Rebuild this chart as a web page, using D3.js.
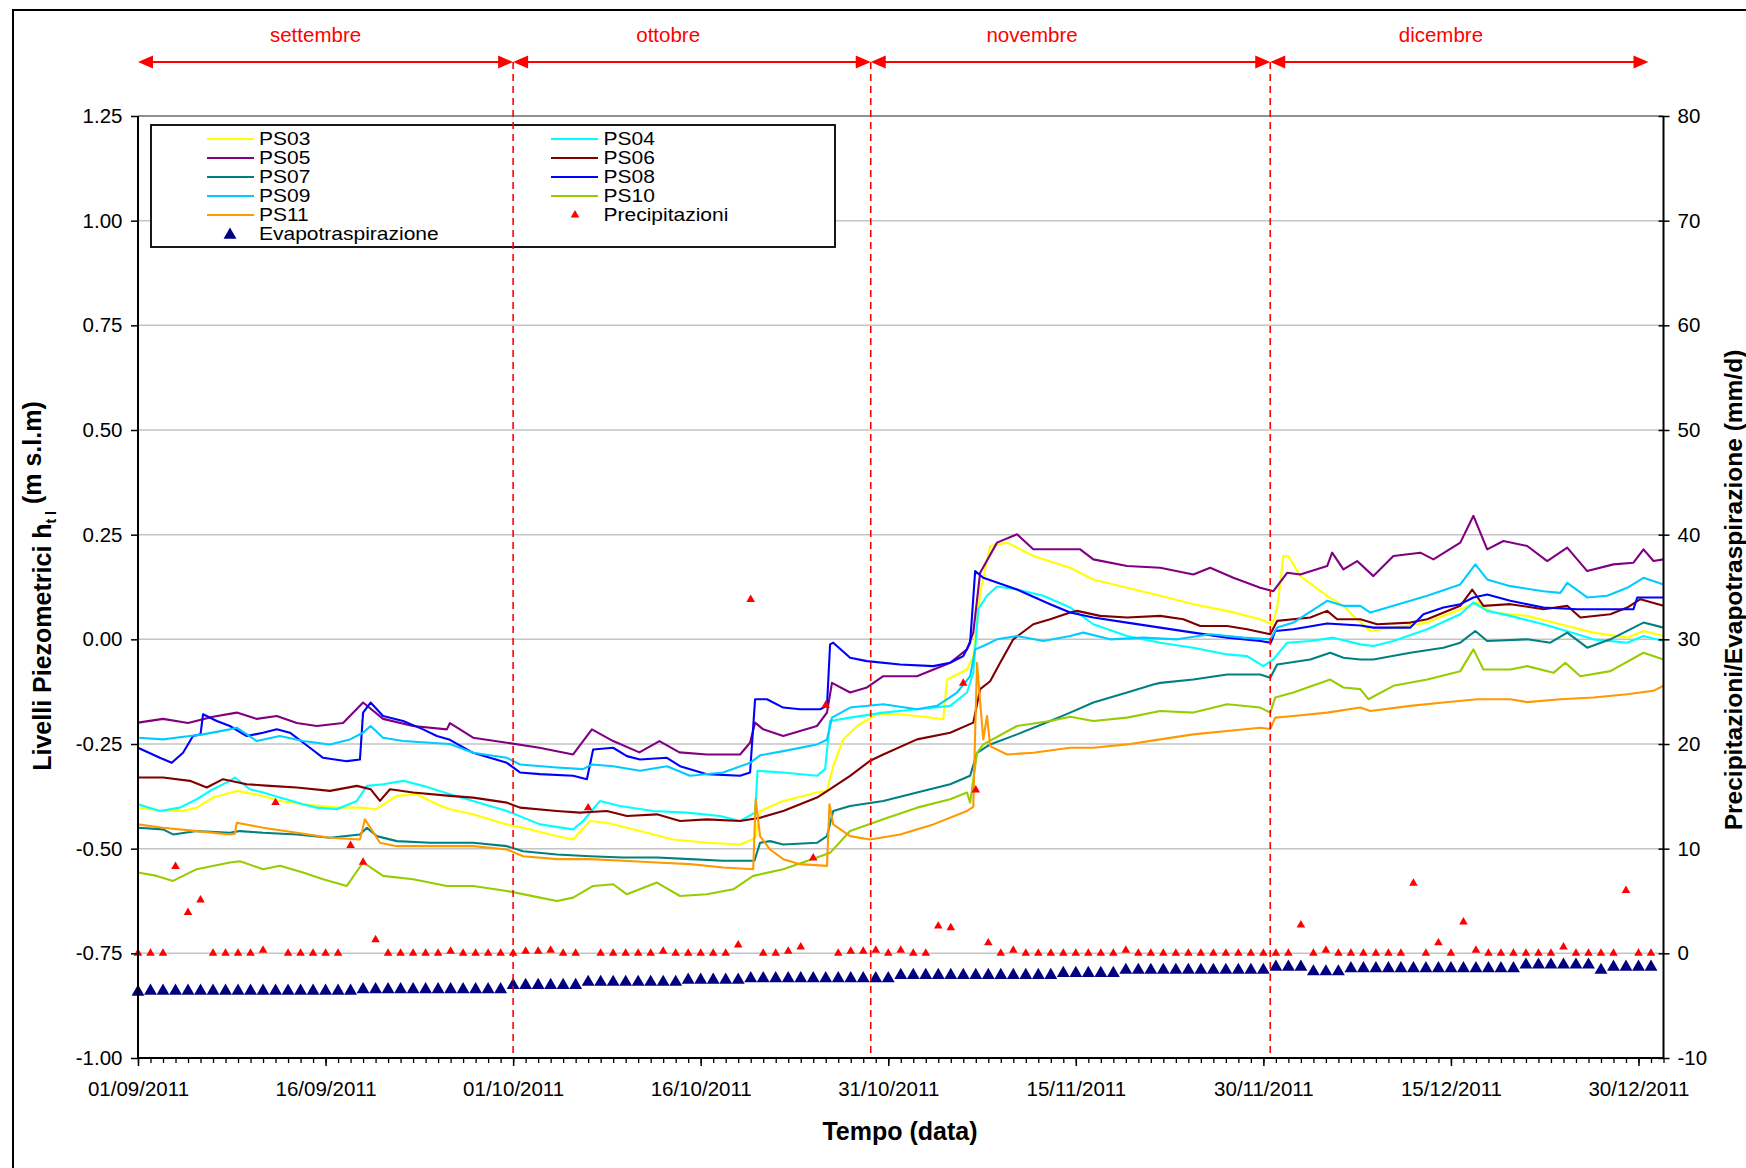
<!DOCTYPE html>
<html><head><meta charset="utf-8">
<script src="https://cdn.jsdelivr.net/npm/d3@7"></script>
<style>
body{margin:0;background:#fff}
svg{display:block}
text{font-family:"Liberation Sans",Arial,Helvetica,sans-serif}
</style>
</head><body>
<svg id="chart" width="1746" height="1168"></svg>
<script>
// ---------------- DATA ----------------
const startDate = Date.UTC(2011, 8, 1);       // 01/09/2011
const endDay = 122;                            // 01/01/2012
const dateTickDays = [0, 15, 30, 45, 60, 75, 90, 105, 120];
const leftTicks = [-1.00, -0.75, -0.50, -0.25, 0.00, 0.25, 0.50, 0.75, 1.00, 1.25];
const rightTicks = [-10, 0, 10, 20, 30, 40, 50, 60, 70, 80];

const monthNames = ["settembre", "ottobre", "novembre", "dicembre"];
const monthStartDays = [0, 30, 58.6, 90.55];
const monthEndDays = [30, 58.6, 90.55, 120.8];
const monthLabelDays = [14.2, 42.4, 71.5, 104.2];
const monthDividerDays = [30, 58.6, 90.55];

// [giorno dal 01/09/2011, livello m s.l.m]
const PS03 = [[0,-0.402],[2,-0.41],[3.6,-0.41],[4.7,-0.402],[6,-0.378],[7.9,-0.362],[10,-0.374],[11.35,-0.386],[13.2,-0.394],[15.9,-0.402],[18,-0.402],[19,-0.406],[20.7,-0.374],[22.3,-0.37],[24,-0.395],[24.95,-0.406],[26.8,-0.418],[29.5,-0.442],[30.8,-0.45],[32.95,-0.466],[34.8,-0.478],[35.5,-0.455],[36.15,-0.434],[37.5,-0.438],[40.15,-0.458],[42.8,-0.478],[45.5,-0.486],[48.15,-0.49],[49.35,-0.475],[49.75,-0.41],[51.6,-0.386],[54.3,-0.366],[55.1,-0.362],[55.6,-0.303],[56.4,-0.239],[57.5,-0.207],[59.1,-0.179],[60.95,-0.179],[62.3,-0.183],[64.4,-0.191],[64.7,-0.096],[66.3,-0.072],[66.8,-0.04],[67.35,0.111],[68.15,0.223],[69.5,0.231],[71.6,0.199],[74.55,0.171],[76.4,0.143],[79.1,0.123],[81.75,0.104],[84.4,0.084],[87.1,0.068],[89.75,0.048],[90.7,0.036],[91.1,0.072],[91.6,0.199],[92,0.199],[92.95,0.151],[95.1,0.104],[96.4,0.08],[97.2,0.056],[98.55,0.02],[100.4,0.028],[103.1,0.04],[105.75,0.072],[107.1,0.088],[108.4,0.064],[111.1,0.056],[113.75,0.036],[116.4,0.016],[119.1,0.004],[120.4,0.02],[122,0.008]];
const PS04 = [[0,-0.394],[1.75,-0.41],[3.35,-0.402],[4.7,-0.382],[6,-0.358],[7.35,-0.338],[7.75,-0.33],[8.95,-0.358],[10,-0.366],[11.35,-0.378],[13.2,-0.394],[14.3,-0.402],[15.9,-0.406],[17.5,-0.386],[18.3,-0.35],[19.6,-0.346],[21.2,-0.338],[22.8,-0.35],[24.95,-0.37],[26.8,-0.386],[29.5,-0.41],[32.15,-0.442],[34.8,-0.454],[35.6,-0.434],[36.95,-0.386],[38.55,-0.398],[41.2,-0.41],[43.9,-0.414],[46.55,-0.422],[48.15,-0.434],[49.35,-0.414],[49.55,-0.314],[51.6,-0.318],[54.3,-0.326],[54.95,-0.31],[55.35,-0.195],[56.95,-0.187],[59.6,-0.175],[62.3,-0.167],[64.95,-0.159],[66.3,-0.127],[66.8,-0.08],[67.2,0.072],[67.9,0.104],[68.7,0.126],[70.3,0.119],[72.4,0.104],[74.55,0.076],[76.4,0.036],[79.1,0.008],[81.75,-0.008],[84.4,-0.02],[87.1,-0.036],[88.7,-0.04],[90,-0.064],[90.8,-0.048],[91.9,-0.008],[93.75,-0.004],[95.6,0.004],[97.75,-0.012],[98.8,-0.016],[100.4,-0.004],[103.1,0.024],[105.75,0.06],[106.8,0.088],[107.9,0.068],[109.75,0.056],[112.4,0.036],[115.1,0.012],[116.4,0],[119.1,-0.008],[120.4,0.008],[122,-0.004]];
const PS05 = [[0,-0.199],[2,-0.19],[4,-0.2],[6,-0.185],[7.9,-0.175],[9.5,-0.19],[11.1,-0.183],[12.7,-0.2],[14.3,-0.207],[16.4,-0.2],[18,-0.151],[19.6,-0.19],[22,-0.207],[24.7,-0.215],[24.95,-0.2],[26.8,-0.235],[29.5,-0.247],[32.1,-0.259],[34.8,-0.275],[36.3,-0.215],[38,-0.243],[40.1,-0.27],[41.7,-0.243],[43.3,-0.27],[45.5,-0.275],[48.15,-0.275],[48.95,-0.247],[49.35,-0.199],[50,-0.215],[51.6,-0.231],[54.3,-0.207],[55.1,-0.175],[55.5,-0.104],[56.95,-0.127],[58.3,-0.115],[59.6,-0.088],[62.3,-0.088],[64.95,-0.056],[66.3,-0.024],[66.8,0.016],[67.35,0.159],[68.7,0.231],[70.3,0.251],[71.6,0.215],[72.95,0.215],[75.35,0.215],[76.4,0.191],[79.1,0.175],[81.75,0.171],[84.4,0.155],[85.75,0.171],[87.6,0.147],[89.75,0.123],[90.8,0.115],[91.9,0.159],[92.95,0.155],[95.1,0.175],[95.5,0.207],[96.4,0.167],[97.5,0.187],[98.8,0.151],[100.4,0.199],[102.55,0.207],[103.6,0.191],[105.75,0.231],[106.8,0.295],[107.9,0.215],[109.2,0.235],[111.1,0.223],[112.7,0.187],[114.3,0.219],[115.9,0.163],[118,0.179],[119.6,0.183],[120.4,0.215],[121.2,0.187],[122,0.191]];
const PS06 = [[0,-0.33],[2,-0.33],[4.15,-0.338],[5.5,-0.354],[6.8,-0.334],[8.7,-0.346],[10.55,-0.35],[12.7,-0.354],[15.35,-0.362],[17.5,-0.35],[18.6,-0.358],[19.35,-0.386],[20.15,-0.358],[22,-0.366],[24.95,-0.374],[26.8,-0.378],[29.5,-0.39],[30.55,-0.402],[33.5,-0.41],[35.35,-0.414],[37.5,-0.41],[39.1,-0.422],[41.5,-0.418],[43.35,-0.434],[45.5,-0.43],[48.15,-0.434],[49.75,-0.426],[51.6,-0.41],[54.3,-0.378],[55.35,-0.358],[56.95,-0.326],[58.55,-0.29],[59.6,-0.275],[62.3,-0.239],[64.95,-0.223],[66.8,-0.199],[67.35,-0.119],[68.15,-0.1],[68.95,-0.056],[70,0],[71.6,0.036],[72.95,0.048],[74.55,0.064],[75.1,0.068],[76.95,0.056],[79.1,0.052],[81.75,0.056],[83.6,0.048],[84.95,0.032],[87.1,0.032],[88.7,0.024],[90.55,0.012],[91.1,0.044],[93.75,0.052],[95.1,0.068],[95.9,0.048],[97.75,0.048],[99.1,0.036],[101.75,0.04],[103.1,0.048],[105.75,0.08],[106.7,0.119],[107.6,0.08],[109.75,0.084],[112.4,0.072],[114.3,0.08],[115.35,0.052],[117.75,0.06],[119.1,0.076],[120.15,0.096],[122,0.08]];
const PS07 = [[0,-0.45],[2,-0.454],[2.8,-0.466],[4.7,-0.458],[7.35,-0.462],[8.15,-0.458],[10,-0.462],[12.7,-0.466],[15.35,-0.474],[17.75,-0.466],[18.3,-0.45],[19.1,-0.47],[20.7,-0.482],[23.35,-0.486],[26.8,-0.486],[29.5,-0.494],[30.8,-0.506],[33.5,-0.514],[36.15,-0.518],[38.8,-0.521],[41.5,-0.521],[44.15,-0.525],[46.8,-0.529],[49.3,-0.529],[49.75,-0.486],[50.55,-0.482],[51.6,-0.49],[54.3,-0.486],[55.1,-0.47],[55.6,-0.41],[56.95,-0.398],[59.6,-0.386],[62.3,-0.366],[64.95,-0.346],[66.55,-0.326],[67.1,-0.271],[68.15,-0.251],[70.3,-0.227],[72.95,-0.195],[74.55,-0.175],[76.4,-0.151],[79.1,-0.127],[81.2,-0.108],[81.75,-0.104],[84.4,-0.096],[87.1,-0.084],[89.75,-0.084],[90.55,-0.092],[91.1,-0.06],[93.75,-0.048],[95.35,-0.032],[96.4,-0.044],[97.75,-0.048],[98.8,-0.048],[101.75,-0.032],[104.4,-0.02],[105.75,-0.008],[106.95,0.02],[107.9,-0.004],[111.1,0],[112.95,-0.008],[114.3,0.016],[115.9,-0.02],[117.75,0],[120.4,0.04],[122,0.028]];
const PS08 = [[0,-0.259],[1.75,-0.283],[2.7,-0.295],[3.6,-0.271],[4.4,-0.231],[5,-0.227],[5.2,-0.179],[6.3,-0.195],[7.35,-0.207],[8.7,-0.231],[10,-0.223],[11.1,-0.215],[12.15,-0.223],[13.75,-0.259],[14.8,-0.283],[16.7,-0.291],[17.75,-0.287],[18,-0.175],[18.6,-0.151],[19.6,-0.183],[21.2,-0.195],[22.8,-0.215],[23.9,-0.231],[24.95,-0.24],[26.8,-0.271],[29.5,-0.295],[30.55,-0.318],[32.15,-0.322],[34.8,-0.326],[35.9,-0.334],[36.4,-0.263],[38,-0.259],[39.1,-0.279],[40.15,-0.287],[42.3,-0.283],[43.35,-0.303],[45.5,-0.322],[48.15,-0.326],[48.95,-0.318],[49.35,-0.143],[50.3,-0.143],[51.6,-0.163],[52.95,-0.167],[54.55,-0.167],[55.1,-0.159],[55.35,-0.012],[55.6,-0.008],[56.95,-0.044],[58.3,-0.052],[60.95,-0.06],[63.6,-0.064],[64.95,-0.056],[66,-0.04],[66.55,-0.008],[66.95,0.163],[67.6,0.147],[70.3,0.119],[72.95,0.084],[74.55,0.064],[76.4,0.052],[79.1,0.04],[81.75,0.028],[84.4,0.016],[87.1,0.004],[89.75,-0.004],[90.6,-0.008],[90.95,0.02],[92.4,0.024],[95.1,0.038],[97.75,0.033],[98.8,0.028],[101.75,0.028],[102.8,0.06],[104.4,0.076],[105.75,0.084],[106.8,0.1],[107.9,0.107],[109.75,0.092],[112.4,0.076],[115.1,0.072],[119.6,0.072],[119.9,0.1],[122,0.1]];
const PS09 = [[0,-0.235],[2,-0.239],[4.15,-0.231],[5.2,-0.227],[7.35,-0.215],[7.9,-0.211],[9.5,-0.243],[11.35,-0.231],[13.2,-0.243],[15.35,-0.251],[16.95,-0.239],[18,-0.223],[18.6,-0.207],[19.6,-0.235],[21.2,-0.243],[23.35,-0.247],[24.95,-0.25],[26.8,-0.271],[29.5,-0.283],[30.55,-0.299],[33.5,-0.306],[35.6,-0.31],[36.3,-0.299],[38,-0.303],[40.15,-0.314],[42.3,-0.303],[44.15,-0.326],[46.8,-0.318],[48.95,-0.295],[49.75,-0.277],[51.6,-0.267],[54.3,-0.251],[55.1,-0.24],[55.5,-0.187],[56.95,-0.163],[59.6,-0.155],[62.3,-0.167],[63.9,-0.159],[65.5,-0.127],[66.55,-0.088],[66.95,-0.024],[67.6,-0.016],[68.7,0],[70.3,0.008],[72.4,-0.004],[74.55,0.008],[75.6,0.016],[77.75,0],[80.4,0.004],[83.1,0],[85.75,0.012],[88.4,0.004],[90.55,0],[91.1,0.028],[92.4,0.04],[95.1,0.092],[96.4,0.08],[97.75,0.08],[98.55,0.064],[100.4,0.08],[103.1,0.104],[105.75,0.131],[106.95,0.179],[107.9,0.143],[109.75,0.127],[112.4,0.115],[113.75,0.111],[114.3,0.135],[115.9,0.1],[117.5,0.104],[119.1,0.123],[120.4,0.147],[122,0.131]];
const PS10 = [[0,-0.557],[1.5,-0.565],[2.8,-0.577],[4.7,-0.549],[7.35,-0.533],[8.15,-0.53],[10,-0.549],[11.35,-0.541],[13.2,-0.557],[14.8,-0.573],[16.7,-0.589],[18,-0.533],[19.6,-0.565],[22,-0.573],[24.7,-0.589],[26.8,-0.589],[29.5,-0.601],[32.15,-0.617],[33.5,-0.625],[34.8,-0.617],[36.4,-0.589],[38,-0.585],[39.1,-0.609],[41.5,-0.581],[43.35,-0.613],[45.5,-0.609],[47.6,-0.597],[49.2,-0.565],[51.6,-0.549],[54.3,-0.521],[55.35,-0.51],[56.95,-0.458],[59.6,-0.43],[62.3,-0.402],[64.95,-0.382],[66.3,-0.366],[66.55,-0.39],[67.1,-0.271],[67.6,-0.251],[70.3,-0.207],[72.95,-0.195],[74.55,-0.185],[76.4,-0.195],[79.1,-0.187],[81.75,-0.171],[84.4,-0.175],[87.1,-0.155],[89.75,-0.163],[90.55,-0.175],[90.95,-0.139],[92.4,-0.127],[95.35,-0.096],[96.4,-0.115],[97.75,-0.119],[98.4,-0.143],[100.4,-0.111],[103.1,-0.096],[105.75,-0.076],[106.8,-0.024],[107.6,-0.072],[109.75,-0.072],[111.1,-0.064],[113.2,-0.08],[114.15,-0.056],[115.35,-0.088],[117.75,-0.076],[120.4,-0.032],[122,-0.048]];
const PS11 = [[0,-0.442],[2,-0.45],[4.7,-0.458],[7.35,-0.466],[7.75,-0.464],[7.9,-0.438],[10,-0.45],[12.7,-0.462],[15.35,-0.474],[17.75,-0.478],[18.15,-0.43],[19.35,-0.486],[20.7,-0.494],[23.35,-0.494],[26.8,-0.494],[29.5,-0.502],[30.8,-0.518],[33.5,-0.525],[36.15,-0.525],[38.8,-0.529],[41.5,-0.533],[44.15,-0.537],[46.8,-0.545],[49.2,-0.549],[49.4,-0.382],[49.75,-0.47],[50.55,-0.502],[51.6,-0.525],[52.95,-0.537],[55.1,-0.541],[55.3,-0.394],[55.6,-0.442],[56.95,-0.47],[58.55,-0.478],[60.95,-0.466],[63.6,-0.442],[66.3,-0.41],[66.8,-0.4],[66.95,-0.223],[67.1,-0.056],[67.35,-0.15],[67.6,-0.239],[67.9,-0.183],[68.15,-0.255],[69.5,-0.275],[71.6,-0.271],[74.55,-0.259],[76.4,-0.259],[79.1,-0.251],[81.75,-0.239],[84.4,-0.227],[87.1,-0.219],[89.75,-0.211],[90.55,-0.214],[90.95,-0.187],[92.4,-0.183],[95.1,-0.175],[97.75,-0.163],[98.55,-0.171],[101.75,-0.159],[104.4,-0.151],[107.1,-0.143],[109.75,-0.143],[111.1,-0.15],[113.75,-0.143],[116.4,-0.139],[119.1,-0.131],[121.2,-0.123],[122,-0.111]];

// valori giornalieri (mm/d), giorno 0 = 01/09/2011
const precipitazioni = [0,0,0,8.3,3.9,5.1,0,0,0,0,0.3,14.4,0,0,0,0,0,10.3,8.7,1.3,
  0,0,0,0,0,0.2,0,0,0,0,0,0.2,0.2,0.3,0,0,13.9,0,0,0,
  0,0,0.2,0,0,0,0,0,0.8,33.8,0,0,0.2,0.6,9.1,23.7,0,0.2,0.2,0.3,
  0,0.3,0,0,2.6,2.45,25.8,15.6,1.0,0,0.3,0,0,0,0,0,0,0,0,0.3,
  0,0,0,0,0,0,0,0,0,0,0,0,0,2.7,0,0.3,0,0,0,0,
  0,0,6.7,0,1.0,0,3.0,0.3,0,0,0,0,0,0,0.6,0,0,0,0,6.0,
  0,0];
const evapotraspirazione = [-3.7,-3.6,-3.6,-3.6,-3.6,-3.6,-3.6,-3.6,-3.6,-3.6,-3.6,-3.6,-3.6,-3.6,-3.6,-3.6,-3.6,-3.6,-3.45,-3.45,
  -3.45,-3.45,-3.45,-3.45,-3.45,-3.45,-3.45,-3.45,-3.45,-3.45,-3.05,-3.05,-3.05,-3.05,-3.05,-3.05,-2.75,-2.75,-2.75,-2.75,
  -2.75,-2.75,-2.75,-2.75,-2.55,-2.55,-2.55,-2.55,-2.55,-2.4,-2.4,-2.4,-2.4,-2.4,-2.4,-2.4,-2.4,-2.4,-2.4,-2.4,
  -2.4,-2.1,-2.1,-2.1,-2.1,-2.1,-2.1,-2.1,-2.1,-2.1,-2.1,-2.1,-2.1,-2.1,-1.9,-1.9,-1.9,-1.9,-1.9,-1.6,
  -1.6,-1.6,-1.6,-1.6,-1.6,-1.6,-1.6,-1.6,-1.6,-1.6,-1.6,-1.3,-1.3,-1.3,-1.75,-1.75,-1.75,-1.45,-1.45,-1.45,
  -1.45,-1.45,-1.45,-1.45,-1.45,-1.45,-1.45,-1.45,-1.45,-1.45,-1.45,-1.1,-1.1,-1.1,-1.1,-1.1,-1.1,-1.6,-1.3,-1.3,
  -1.3,-1.3];

const seriesNames = ["PS03","PS04","PS05","PS06","PS07","PS08","PS09","PS10","PS11"];
const seriesData = [PS03, PS04, PS05, PS06, PS07, PS08, PS09, PS10, PS11];
const seriesColors = ["#FFFF00","#00FFFF","#800080","#800000","#008080","#0000FF","#00CCFF","#99CC00","#FF9900"];
const legendLeft = ["PS03","PS05","PS07","PS09","PS11","Evapotraspirazione"];
const legendRight = ["PS04","PS06","PS08","PS10","Precipitazioni"];

// ---------------- CHART ----------------
const svg = d3.select("#chart");
const M = {left: 138, right: 1663.5, top: 116, bottom: 1058};
const dayToDate = d => new Date(startDate + d * 864e5);
const hyphen = f => v => f(v).replace("\u2212", "-");

const x = d3.scaleUtc().domain([dayToDate(0), dayToDate(endDay)]).range([M.left, M.right]);
const yL = d3.scaleLinear().domain([-1, 1.25]).range([M.bottom, M.top]);
const yR = d3.scaleLinear().domain([-10, 80]).range([M.bottom, M.top]);

// outer frame
svg.append("rect").attr("x", 13).attr("y", 10).attr("width", 1760).attr("height", 1200)
  .attr("fill", "none").attr("stroke", "#000").attr("stroke-width", 2);

// gridlines
svg.append("g").selectAll("line").data(leftTicks).join("line")
  .attr("x1", M.left).attr("x2", M.right)
  .attr("y1", d => yL(d)).attr("y2", d => yL(d))
  .attr("stroke", d => d === 1.25 ? "#909090" : "#c4c4c4")
  .attr("stroke-width", d => d === 1.25 ? 2 : 1.5);

// clip
svg.append("clipPath").attr("id", "clip").append("rect")
  .attr("x", M.left).attr("y", M.top).attr("width", M.right - M.left).attr("height", M.bottom - M.top);

// series
const line = d3.line().x(d => x(dayToDate(d[0]))).y(d => yL(d[1]));
const gS = svg.append("g").attr("clip-path", "url(#clip)");
seriesData.forEach((s, i) => {
  gS.append("path").datum(s).attr("d", line)
    .attr("fill", "none").attr("stroke", seriesColors[i]).attr("stroke-width", 2.1)
    .attr("stroke-linejoin", "round");
});

// markers
const triSmall = d3.symbol().type(d3.symbolTriangle).size(32);
const triBig = d3.symbol().type(d3.symbolTriangle).size(72);
svg.append("g").selectAll("path").data(precipitazioni).join("path")
  .attr("d", triSmall)
  .attr("transform", (d, i) => `translate(${x(dayToDate(i))},${yR(d)})`)
  .attr("fill", "#FF0000");
svg.append("g").selectAll("path").data(evapotraspirazione).join("path")
  .attr("d", triBig)
  .attr("transform", (d, i) => `translate(${x(dayToDate(i))},${yR(d)})`)
  .attr("fill", "#000080");

// axes
const fontTick = 20.5;
const ff = '"Liberation Sans",Arial,sans-serif';
const xMinor = d3.range(0, endDay + 1);
const gx = svg.append("g").attr("transform", `translate(0,${M.bottom})`);
gx.call(d3.axisBottom(x).tickValues(xMinor.map(dayToDate)).tickSize(5).tickFormat(""));
gx.select(".domain").remove();
gx.selectAll("line").attr("stroke", "#000").attr("stroke-width", 1.3);
const gx2 = svg.append("g").attr("transform", `translate(0,${M.bottom})`);
gx2.call(d3.axisBottom(x).tickValues(dateTickDays.map(dayToDate)).tickSize(8).tickPadding(15)
  .tickFormat(d3.utcFormat("%d/%m/%Y")));
gx2.select(".domain").remove();
gx2.selectAll("line").attr("stroke", "#000").attr("stroke-width", 1.5);
gx2.selectAll("text").attr("font-size", fontTick).attr("fill", "#000").attr("font-family", ff);

const gyL = svg.append("g").attr("transform", `translate(${M.left},0)`);
gyL.call(d3.axisLeft(yL).tickValues(leftTicks).tickSize(7).tickPadding(8.5).tickFormat(hyphen(d3.format(".2f"))));
gyL.select(".domain").remove();
gyL.selectAll("line").attr("stroke", "#000").attr("stroke-width", 1.5);
gyL.selectAll("text").attr("font-size", fontTick).attr("fill", "#000").attr("font-family", ff);

const gyR = svg.append("g").attr("transform", `translate(${M.right},0)`);
gyR.call(d3.axisRight(yR).tickValues(rightTicks).tickSize(6).tickPadding(8).tickFormat(hyphen(d3.format("d"))));
gyR.select(".domain").remove();
gyR.selectAll("line").attr("x1", -5).attr("stroke", "#000").attr("stroke-width", 1.5);
gyR.selectAll("text").attr("font-size", fontTick).attr("fill", "#000").attr("font-family", ff);

// axis lines
svg.append("path")
  .attr("d", `M${M.left},${M.top}V${M.bottom}H${M.right}V${M.top}`)
  .attr("fill", "none").attr("stroke", "#000").attr("stroke-width", 2);

// legend
const lg = svg.append("g");
lg.append("rect").attr("x", 151).attr("y", 125).attr("width", 684).attr("height", 122)
  .attr("fill", "#fff").attr("stroke", "#000").attr("stroke-width", 1.8);
const rowY = i => 139 + i * 19;
const colorOf = n => seriesNames.includes(n) ? seriesColors[seriesNames.indexOf(n)] : null;
const legendFont = 16.5, legendStretch = 21 / 16.5;
[[legendLeft, 207, 259, 230], [legendRight, 551, 603.5, 575]].forEach(([items, lx, tx, mx]) => {
  items.forEach((n, i) => {
    const yy = rowY(i);
    if (colorOf(n)) {
      lg.append("line").attr("x1", lx).attr("x2", lx + 47).attr("y1", yy).attr("y2", yy)
        .attr("stroke", colorOf(n)).attr("stroke-width", 2);
    } else if (n === "Evapotraspirazione") {
      lg.append("path").attr("d", triBig).attr("transform", `translate(${mx},${yy + 1})`).attr("fill", "#000080");
    } else {
      lg.append("path").attr("d", triSmall).attr("transform", `translate(${mx},${yy})`).attr("fill", "#FF0000");
    }
    lg.append("text").attr("transform", `translate(${tx},${yy}) scale(${legendStretch},1.08)`)
      .attr("dy", "0.36em").attr("font-size", legendFont).attr("fill", "#000").text(n);
  });
});

// month dividers (dashed)
const arrowY = 62;
svg.append("g").selectAll("line").data(monthDividerDays).join("line")
  .attr("x1", d => x(dayToDate(d))).attr("x2", d => x(dayToDate(d)))
  .attr("y1", arrowY).attr("y2", M.bottom)
  .attr("stroke", "#FF0000").attr("stroke-width", 1.6).attr("stroke-dasharray", "7,5");

// month arrows
const ga = svg.append("g");
monthNames.forEach((m, i) => {
  const xa = x(dayToDate(monthStartDays[i])), xb = x(dayToDate(monthEndDays[i]));
  const hl = 15, hw = 6.5;
  ga.append("line").attr("x1", xa + 4).attr("x2", xb - 4).attr("y1", arrowY).attr("y2", arrowY)
    .attr("stroke", "#FF0000").attr("stroke-width", 2);
  ga.append("path").attr("d", `M${xa},${arrowY}L${xa + hl},${arrowY - hw}L${xa + hl},${arrowY + hw}Z`).attr("fill", "#FF0000");
  ga.append("path").attr("d", `M${xb},${arrowY}L${xb - hl},${arrowY - hw}L${xb - hl},${arrowY + hw}Z`).attr("fill", "#FF0000");
  ga.append("text").attr("x", x(dayToDate(monthLabelDays[i]))).attr("y", 35).attr("dy", "0.36em")
    .attr("text-anchor", "middle").attr("font-size", 20.5).attr("fill", "#FF0000").text(m);
});

// axis titles
svg.append("text").attr("x", 900).attr("y", 1131).attr("dy", "0.36em").attr("text-anchor", "middle")
  .attr("font-size", 25).attr("font-weight", "bold").text("Tempo (data)");

const tL = svg.append("text").attr("transform", "translate(42,586) rotate(-90)")
  .attr("text-anchor", "middle").attr("dy", "0.36em")
  .attr("font-size", 25).attr("font-weight", "bold");
tL.append("tspan").text("Livelli Piezometrici h");
tL.append("tspan").attr("font-size", 14).attr("dy", "0.35em").text("t l");
tL.append("tspan").attr("dy", "-0.6em").text(" (m s.l.m)");

svg.append("text").attr("transform", "translate(1733,590) rotate(-90)")
  .attr("text-anchor", "middle").attr("dy", "0.36em")
  .attr("font-size", 24.5).attr("font-weight", "bold").text("Precipitazioni/Evapotraspirazione (mm/d)");
</script>
</body></html>
